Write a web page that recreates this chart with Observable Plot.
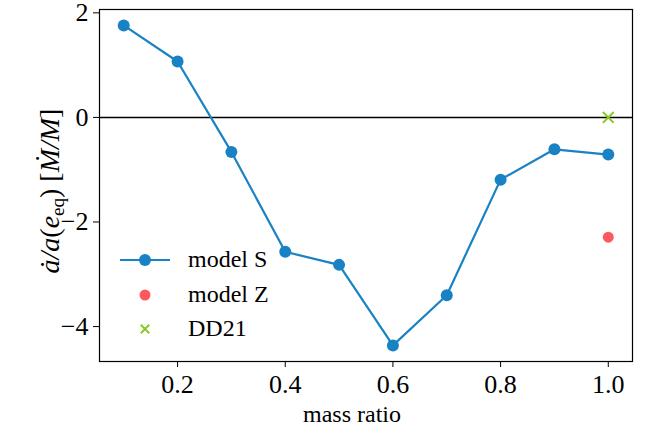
<!DOCTYPE html>
<html>
<head>
<meta charset="utf-8">
<script src="https://cdn.jsdelivr.net/npm/d3@7"></script>
<script src="https://cdn.jsdelivr.net/npm/@observablehq/plot@0.6"></script>
<style>
  html, body { margin: 0; padding: 0; background: #fff; }
  svg { display: block; }
  svg text { font-family: "Liberation Serif", "DejaVu Serif", serif !important; }
</style>
</head>
<body>
<div id="chart"></div>
<script>
// Data
const massRatio = [0.1, 0.2, 0.3, 0.4, 0.5, 0.6, 0.7, 0.8, 0.9, 1.0];
const modelS = [1.76, 1.07, -0.66, -2.57, -2.82, -4.36, -3.40, -1.19, -0.61, -0.71];
const modelZx = [1.0];
const modelZ = [-2.29];
const dd21x = [1.0];
const dd21 = [0.0];
const xTicks = [0.2, 0.4, 0.6, 0.8, 1.0];
const yTicks = [-4, -2, 0, 2];
const legendLabels = ["model S", "model Z", "DD21"];
const colors = {S: "#1982c4", Z: "#ff595e", D: "#8ac926"};

const sData = massRatio.map((x, i) => ({x, y: modelS[i]}));
const zData = modelZx.map((x, i) => ({x, y: modelZ[i]}));
const dData = dd21x.map((x, i) => ({x, y: dd21[i]}));

const fmtNum = d => (d < 0 ? "\u2212" + Math.abs(d) : String(d));

const chart = Plot.plot({
  width: 651,
  height: 436,
  marginLeft: 99,
  marginRight: 19,
  marginTop: 9,
  marginBottom: 75,
  style: {fontSize: "26px", background: "#fff", color: "#000"},
  x: {domain: [0.055, 1.045], label: null},
  y: {domain: [-4.668, 2.064], label: null},
  marks: [
    Plot.ruleY([0], {stroke: "#000", strokeWidth: 1.5}),
    Plot.line(sData, {x: "x", y: "y", stroke: colors.S, strokeWidth: 2.2}),
    Plot.dot(sData, {x: "x", y: "y", r: 6, fill: colors.S}),
    Plot.dot(zData, {x: "x", y: "y", r: 5.5, fill: colors.Z}),
    Plot.dot(dData, {x: "x", y: "y", symbol: "times", r: 5, stroke: colors.D, strokeWidth: 2}),
    Plot.frame({stroke: "#000", strokeWidth: 1.2}),
    Plot.axisX({ticks: xTicks, tickFormat: d3.format(".1f"), tickSize: 6, tickPadding: 7, fontSize: 26, label: null}),
    Plot.axisY({ticks: yTicks, tickFormat: fmtNum, tickSize: 6, tickPadding: 5, fontSize: 26, label: null})
  ]
});

document.getElementById("chart").appendChild(chart);

const svg = d3.select(chart);
svg.selectAll("text").style("font-size", "26px");

// X axis label
svg.append("text")
  .attr("x", 352).attr("y", 422)
  .style("text-anchor", "middle")
  .style("font-size", "24px")
  .attr("fill", "#000")
  .text("mass ratio");

// Y axis label (math text)
const yl = svg.append("text")
  .attr("transform", "translate(59,191) rotate(-90)")
  .style("text-anchor", "middle")
  .style("font-size", "28px")
  .attr("fill", "#000");
yl.append("tspan").style("font-style", "italic").text("\u0227/a");
yl.append("tspan").text("(");
yl.append("tspan").style("font-style", "italic").text("e");
yl.append("tspan").style("font-size", "19px").attr("dy", 5).text("eq");
yl.append("tspan").attr("dy", -5).text(")\u00a0[");
yl.append("tspan").style("font-style", "italic").text("\u1E40/M");
yl.append("tspan").text("]");

// Legend
const leg = svg.append("g");
const rows = [260, 295, 329];
leg.append("line").attr("x1", 120).attr("x2", 170).attr("y1", rows[0]).attr("y2", rows[0])
  .attr("stroke", colors.S).attr("stroke-width", 2.2);
leg.append("circle").attr("cx", 145).attr("cy", rows[0]).attr("r", 6).attr("fill", colors.S);
leg.append("circle").attr("cx", 145).attr("cy", rows[1]).attr("r", 5.5).attr("fill", colors.Z);
const s = 4.2;
leg.append("path").attr("d", `M${145 - s},${rows[2] - s}L${145 + s},${rows[2] + s}M${145 - s},${rows[2] + s}L${145 + s},${rows[2] - s}`)
  .attr("stroke", colors.D).attr("stroke-width", 2).attr("fill", "none");
legendLabels.forEach((t, i) => {
  leg.append("text").attr("x", 188).attr("y", rows[i] + 7)
    .style("text-anchor", "start")
    .style("font-size", "24px").attr("fill", "#000").text(t);
});
</script>
</body>
</html>
